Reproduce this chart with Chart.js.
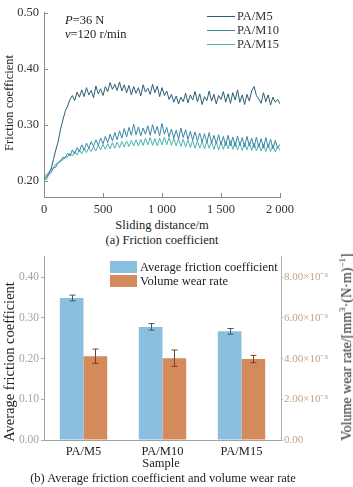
<!DOCTYPE html>
<html><head><meta charset="utf-8">
<script src="https://cdn.jsdelivr.net/npm/chart.js@4.4.1/dist/chart.umd.min.js"></script>
<style>
body{margin:0;width:353px;height:487px;background:#fff;position:relative;overflow:hidden;font-family:'Liberation Serif','Times New Roman',serif;color:#222}
.t{position:absolute;white-space:nowrap;font-size:12.5px;line-height:1}
.c{transform:translate(-50%,-50%)}
.l{transform:translateY(-50%)}
.rot{transform:translate(-50%,-50%) rotate(-90deg)}
canvas{position:absolute;left:0}
.ln{position:absolute;height:0;border-top:1px solid}
.bx{position:absolute;width:27px;height:12px}
</style></head><body>
<canvas id="c1" width="353" height="215" style="top:0"></canvas>
<canvas id="c2" width="353" height="210" style="top:248px"></canvas>

<div class="t rot" style="left:9px;top:103px">Friction coefficient</div>
<div class="t l" style="left:65px;top:20px"><i>P</i>=36 N</div>
<div class="t l" style="left:65px;top:34px"><i>v</i>=120 r/min</div>
<div class="ln" style="left:207px;top:16px;width:28px;border-color:#2e5d74"></div>
<div class="ln" style="left:207px;top:30px;width:28px;border-color:#3b88a6"></div>
<div class="ln" style="left:207px;top:44px;width:28px;border-color:#4cb3b0"></div>
<div class="t l" id="lg1" style="left:237px;top:16px;color:#333"></div>
<div class="t l" id="lg2" style="left:237px;top:30px;color:#333"></div>
<div class="t l" id="lg3" style="left:237px;top:44px;color:#333"></div>
<div class="t c" style="left:162px;top:225px">Sliding distance/m</div>
<div class="t c" style="left:162px;top:240px">(a) Friction coefficient</div>

<div class="bx" style="left:110px;top:261px;background:#8bbfe0"></div>
<div class="bx" style="left:110px;top:275px;background:#d58a5c"></div>
<div class="t l" id="bl1" style="left:140px;top:267px"></div>
<div class="t l" id="bl2" style="left:140px;top:281px"></div>
<div class="t rot" style="left:9px;top:362px;font-size:14.5px">Average friction coefficient</div>
<div class="t rot" style="left:346px;top:347px;font-size:14px">Volume wear rate/[mm<sup style="font-size:9px">3</sup>·(N·m)<sup style="font-size:9px">−1</sup>]</div>
<div class="t c" style="left:161px;top:463px">Sample</div>
<div class="t c" style="left:163px;top:478px">(b) Average friction coefficient and volume wear rate</div>

<script>
// ---------- Data: (a) friction coefficient vs sliding distance ----------
const distance = [0,20,40,60,80,100,120,140,160,180,200,220,240,260,280,300,320,340,360,380,400,420,440,460,480,500,520,540,560,580,600,620,640,660,680,700,720,740,760,780,800,820,840,860,880,900,920,940,960,980,1000,1020,1040,1060,1080,1100,1120,1140,1160,1180,1200,1220,1240,1260,1280,1300,1320,1340,1360,1380,1400,1420,1440,1460,1480,1500,1520,1540,1560,1580,1600,1620,1640,1660,1680,1700,1720,1740,1760,1780,1800,1820,1840,1860,1880,1900,1920,1940,1960,1980,2000];
const seriesNames = ['PA/M5','PA/M10','PA/M15'];
const pam5 = [0.205,0.207,0.213,0.221,0.238,0.255,0.270,0.292,0.308,0.324,
  0.333,0.345,0.352,0.343,0.358,0.349,0.362,0.350,0.366,0.353,
  0.361,0.348,0.369,0.355,0.364,0.352,0.368,0.359,0.375,0.363,
  0.372,0.361,0.376,0.360,0.371,0.357,0.370,0.353,0.368,0.356,
  0.366,0.351,0.371,0.358,0.365,0.354,0.372,0.357,0.369,0.350,
  0.366,0.352,0.360,0.345,0.354,0.340,0.351,0.337,0.349,0.341,
  0.356,0.339,0.353,0.344,0.359,0.341,0.355,0.336,0.350,0.343,
  0.360,0.342,0.354,0.337,0.352,0.345,0.359,0.340,0.355,0.338,
  0.357,0.344,0.362,0.340,0.353,0.336,0.354,0.342,0.360,0.368,
  0.352,0.346,0.338,0.357,0.341,0.353,0.335,0.349,0.340,0.345,0.337];
const pam10 = [0.205,0.202,0.211,0.214,0.223,0.224,0.233,0.234,0.242,0.240,
  0.249,0.244,0.255,0.248,0.259,0.252,0.264,0.255,0.267,0.258,
  0.270,0.261,0.273,0.263,0.276,0.266,0.279,0.268,0.283,0.271,
  0.286,0.273,0.289,0.276,0.293,0.278,0.295,0.281,0.301,0.282,
  0.296,0.280,0.294,0.283,0.298,0.281,0.300,0.284,0.297,0.280,
  0.302,0.283,0.295,0.278,0.292,0.276,0.290,0.274,0.294,0.277,
  0.291,0.274,0.288,0.272,0.287,0.271,0.285,0.269,0.284,0.268,
  0.286,0.267,0.281,0.266,0.282,0.264,0.279,0.263,0.281,0.262,
  0.278,0.261,0.280,0.263,0.277,0.260,0.279,0.262,0.276,0.259,
  0.278,0.260,0.275,0.258,0.277,0.259,0.274,0.257,0.272,0.258,0.265];
const pam15 = [0.208,0.211,0.214,0.221,0.223,0.230,0.231,0.237,0.237,0.243,
  0.242,0.249,0.244,0.252,0.246,0.255,0.248,0.258,0.250,0.259,
  0.252,0.261,0.253,0.264,0.255,0.265,0.256,0.266,0.257,0.268,
  0.258,0.269,0.259,0.270,0.260,0.271,0.261,0.272,0.262,0.273,
  0.262,0.274,0.263,0.276,0.264,0.277,0.263,0.275,0.262,0.276,
  0.264,0.278,0.264,0.277,0.263,0.276,0.262,0.275,0.261,0.274,
  0.260,0.273,0.259,0.272,0.258,0.271,0.258,0.270,0.257,0.271,
  0.258,0.270,0.256,0.269,0.255,0.269,0.256,0.270,0.257,0.271,
  0.256,0.269,0.255,0.268,0.254,0.267,0.255,0.268,0.254,0.267,
  0.253,0.266,0.253,0.265,0.252,0.265,0.252,0.264,0.251,0.261,0.254];
const xTickValues = [0,500,1000,1500,2000];
const xTickLabels = ['0','500','1 000','1 500','2 000'];
const yTicksA = [0.20,0.30,0.40,0.50];

// ---------- Data: (b) averages ----------
const samples = ['PA/M5','PA/M10','PA/M15'];
const barNames = ['Average friction coefficient','Volume wear rate'];
const avgFriction = [0.349,0.278,0.267];
const avgFrictionErr = [0.007,0.008,0.007];
const wearRate = [4.12e-6,4.02e-6,3.98e-6];
const wearRateErr = [0.35e-6,0.40e-6,0.18e-6];

document.getElementById('lg1').textContent = seriesNames[0];
document.getElementById('lg2').textContent = seriesNames[1];
document.getElementById('lg3').textContent = seriesNames[2];
document.getElementById('bl1').textContent = barNames[0];
document.getElementById('bl2').textContent = barNames[1];

const FONT = "'Liberation Serif','Times New Roman',serif";
const pts = arr => distance.map((d,i)=>({x:d,y:arr[i]}));

const inwardTicks = {
  id:'inwardTicks',
  afterDraw(chart){
    const {ctx, chartArea:a, scales:{x,y}} = chart;
    ctx.save(); ctx.strokeStyle='#8a8a8a'; ctx.lineWidth=1;
    ctx.beginPath();
    xTickValues.forEach(v=>{ if(v===0) return; const px=Math.round(x.getPixelForValue(v))+0.5; ctx.moveTo(px,a.bottom); ctx.lineTo(px,a.bottom-4); });
    yTicksA.forEach(v=>{ const py=Math.round(y.getPixelForValue(v))+0.5; ctx.moveTo(a.left,py); ctx.lineTo(a.left+4,py); });
    ctx.stroke(); ctx.restore();
  }
};

new Chart(document.getElementById('c1'), {
  type:'line',
  data:{datasets:[
    {label:seriesNames[0], data:pts(pam5), borderColor:'#2e5d74', borderWidth:1, pointRadius:0, tension:0},
    {label:seriesNames[1], data:pts(pam10), borderColor:'#3b88a6', borderWidth:1, pointRadius:0, tension:0},
    {label:seriesNames[2], data:pts(pam15), borderColor:'#4cb3b0', borderWidth:1, pointRadius:0, tension:0}
  ]},
  options:{
    responsive:false, animation:false, devicePixelRatio:1,
    layout:{padding:{top:6,right:73,left:0,bottom:0}},
    plugins:{legend:{display:false}, tooltip:{enabled:false}},
    scales:{
      x:{type:'linear', min:0, max:2000,
        afterFit:s=>{s.height=18;},
        afterBuildTicks:s=>{s.ticks=xTickValues.map(v=>({value:v}));},
        grid:{display:true, drawOnChartArea:false, drawTicks:false},
        border:{display:true, color:'#8a8a8a', width:1},
        ticks:{padding:5, color:'#333', font:{family:FONT,size:12.5}, maxRotation:0, autoSkip:false,
          callback:(v)=>xTickLabels[xTickValues.indexOf(v)]}
      },
      y:{min:0.171, max:0.5,
        afterFit:s=>{s.width=44;},
        afterBuildTicks:s=>{s.ticks=yTicksA.map(v=>({value:v}));},
        grid:{display:true, drawOnChartArea:false, drawTicks:false},
        border:{display:true, color:'#8a8a8a', width:1},
        ticks:{padding:5, color:'#333', font:{family:FONT,size:12.5}, callback:v=>v.toFixed(2)}
      }
    }
  },
  plugins:[inwardTicks]
});

const errorBars = {
  id:'errorBars',
  afterDatasetsDraw(chart){
    const ctx=chart.ctx;
    chart.data.datasets.forEach((ds,i)=>{
      const meta=chart.getDatasetMeta(i);
      const ys=chart.scales[ds.yAxisID];
      ctx.save(); ctx.strokeStyle=ds.errColor; ctx.lineWidth=1;
      meta.data.forEach((el,j)=>{
        const v=ds.data[j], e=ds.err[j];
        const x=Math.round(el.x)+0.5;
        const y1=ys.getPixelForValue(v+e), y2=ys.getPixelForValue(v-e);
        ctx.beginPath();
        ctx.moveTo(x,y1); ctx.lineTo(x,y2);
        ctx.moveTo(x-3,y1); ctx.lineTo(x+3,y1);
        ctx.moveTo(x-3,y2); ctx.lineTo(x+3,y2);
        ctx.stroke();
      });
      ctx.restore();
    });
  }
};

new Chart(document.getElementById('c2'), {
  type:'bar',
  data:{labels:samples, datasets:[
    {label:barNames[0], data:avgFriction, err:avgFrictionErr, errColor:'#3d5a70', yAxisID:'y', backgroundColor:'#8bbfe0', categoryPercentage:0.6, barPercentage:1.0},
    {label:barNames[1], data:wearRate, err:wearRateErr, errColor:'#7a3e1e', yAxisID:'y2', backgroundColor:'#d58a5c', categoryPercentage:0.6, barPercentage:1.0}
  ]},
  options:{
    responsive:false, animation:false, devicePixelRatio:1,
    layout:{padding:{top:5,right:0,left:0,bottom:0}},
    plugins:{legend:{display:false}, tooltip:{enabled:false}},
    scales:{
      x:{afterFit:s=>{s.height=18;},
        grid:{display:false, drawTicks:false},
        border:{display:true, color:'#a0a0a0', width:1},
        ticks:{padding:4, color:'#222', font:{family:FONT,size:12.5}}
      },
      y:{position:'left', min:0, max:0.45,
        afterFit:s=>{s.width=44;},
        afterBuildTicks:s=>{s.ticks=[0,0.1,0.2,0.3,0.4].map(v=>({value:v}));},
        grid:{display:true, drawOnChartArea:false, drawTicks:true, tickLength:3, color:'#b0b0b0'},
        border:{display:true, color:'#a0a0a0', width:1},
        ticks:{padding:2, color:'#a3a3a3', font:{family:FONT,size:11.5}, callback:v=>v.toFixed(2)}
      },
      y2:{position:'right', min:0, max:9e-6,
        afterFit:s=>{s.width=72;},
        afterBuildTicks:s=>{s.ticks=[0,2e-6,4e-6,6e-6,8e-6].map(v=>({value:v}));},
        grid:{display:true, drawOnChartArea:false, drawTicks:true, tickLength:2, color:'#c8b098'},
        border:{display:true, color:'#b0b0b0', width:1},
        ticks:{padding:1, color:'#c4a27e', font:{family:FONT,size:11}, callback:v=> v===0 ? '0.00' : (v/1e-6).toFixed(2)+'×10⁻⁶'}
      }
    }
  },
  plugins:[errorBars]
});
</script>
</body></html>
